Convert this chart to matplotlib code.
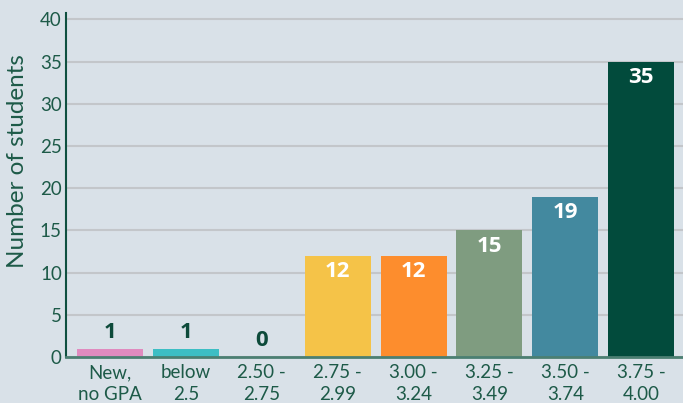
import matplotlib
matplotlib.use("Agg")
import matplotlib.pyplot as plt

categories = ["New,\nno GPA", "below\n2.5", "2.50 -\n2.75", "2.75 -\n2.99", "3.00 -\n3.24",
              "3.25 -\n3.49", "3.50 -\n3.74", "3.75 -\n4.00"]
values = [1, 1, 0, 12, 12, 15, 19, 35]
colors = ["#e08bbf", "#3dbec4", "#3dbec4", "#f5c348", "#fd8d2d", "#7f9c80", "#43899f", "#024b3c"]
yticks = [0, 5, 10, 15, 20, 25, 30, 35, 40]

bg = "#d9e1e8"
txt = "#1d5a48"

fig = plt.figure(figsize=(6.83, 4.03), dpi=100, facecolor=bg)
ax = fig.add_axes([66/683, 1 - 357/403, (683-66)/683, (357-12.7)/403])
ax.set_facecolor(bg)

x = list(range(len(values)))
ax.bar(x, values, width=0.87, color=colors, zorder=3)
ax.set_xlim(-0.58, 7.55)
ax.set_ylim(0, 40.8)
ax.set_yticks(yticks)
ax.grid(axis="y", color="#c3c6ca", linewidth=1.5, zorder=0)
ax.set_axisbelow(True)

for s in ["top", "right"]:
    ax.spines[s].set_visible(False)
ax.spines["left"].set_color("#0f5040")
ax.spines["left"].set_linewidth(1.5)
ax.spines["bottom"].set_color("#4b7f72")
ax.spines["bottom"].set_linewidth(2)
ax.spines["bottom"].set_zorder(4)

ax.tick_params(axis="y", length=0, labelsize=13.5, colors=txt, pad=3)
ax.tick_params(axis="x", length=0, labelsize=13.5, colors=txt, pad=5)
ax.set_xticks(x)
ax.set_xticklabels(categories, family="Lato", linespacing=1.35)
for lab in ax.get_yticklabels():
    lab.set_family("Lato")
ax.set_ylabel("Number of students", family="Lato", fontsize=17.5, color=txt)
ax.yaxis.set_label_coords(-0.062, 0.57)

for xi, v in zip(x, values):
    if v >= 5:
        ax.text(xi, v - 1.85, str(v), ha="center", va="center", color="white",
                fontsize=16, fontweight="bold", family="Open Sans", zorder=5)
    else:
        ax.text(xi, v + 1.9, str(v), ha="center", va="center", color="#0d4a3a",
                fontsize=16, fontweight="bold", family="Open Sans", zorder=5)

fig.savefig("out.png", dpi=100, facecolor=bg)
